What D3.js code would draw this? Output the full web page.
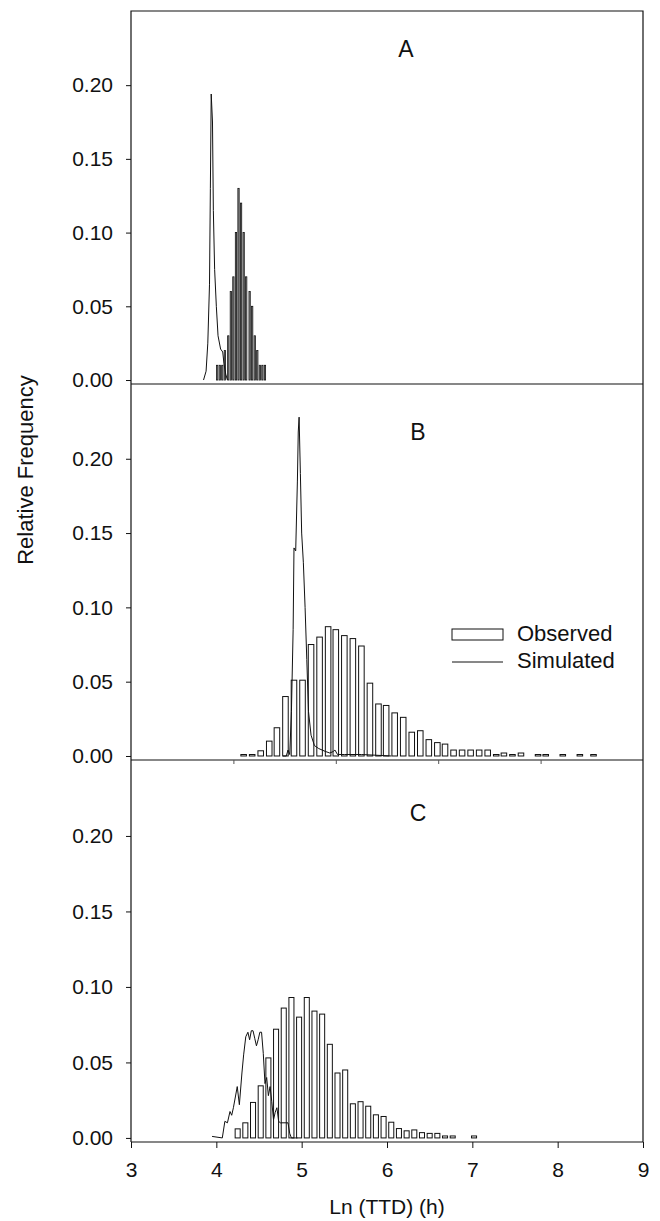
<!DOCTYPE html>
<html>
<head>
<meta charset="utf-8">
<script src="https://cdn.jsdelivr.net/npm/d3@7"></script>
<style>
body { margin: 0; background: #fff; }
text { font-family: "Liberation Sans", Arial, sans-serif; fill: #111; }
</style>
</head>
<body>
<script>
// tick labels
const xTicks = [3, 4, 5, 6, 7, 8, 9];
const yTicks = [0, 0.05, 0.10, 0.15, 0.20];
const bInnerTicks = [4.2, 5.4, 6.6, 7.8];
const panelLabels = ["A", "B", "C"];

// panel A
const aObsX = [4.01, 4.04, 4.07, 4.10, 4.14, 4.17, 4.20, 4.23, 4.26, 4.29, 4.32, 4.35, 4.39, 4.42, 4.45, 4.48, 4.51, 4.54, 4.57];
const aObsY = [0.01, 0.01, 0.01, 0.02, 0.03, 0.06, 0.07, 0.10, 0.13, 0.12, 0.10, 0.07, 0.06, 0.05, 0.03, 0.02, 0.01, 0.01, 0.01];
const aSimX = [3.85, 3.88, 3.90, 3.92, 3.93, 3.94, 3.955, 3.965, 3.98, 4.00, 4.02, 4.05, 4.075, 4.09, 4.11, 4.13];
const aSimY = [0.000, 0.006, 0.025, 0.065, 0.130, 0.194, 0.175, 0.115, 0.075, 0.050, 0.030, 0.021, 0.019, 0.011, 0.004, 0.000];

// panel B
const bObsX = [4.32, 4.42, 4.52, 4.62, 4.71, 4.81, 4.91, 5.01, 5.11, 5.21, 5.31, 5.40, 5.50, 5.60, 5.70, 5.80, 5.90, 5.99,
    6.09, 6.19, 6.29, 6.39, 6.49, 6.59, 6.68, 6.78, 6.88, 6.98, 7.08, 7.18, 7.28, 7.37, 7.47, 7.57, 7.77, 7.86, 8.06, 8.26, 8.42];
const bObsY = [0.001, 0.001, 0.0035, 0.010, 0.019, 0.040, 0.051, 0.051, 0.075, 0.080, 0.087, 0.085, 0.081, 0.079, 0.074, 0.049, 0.035, 0.034,
    0.029, 0.026, 0.016, 0.017, 0.011, 0.009, 0.008, 0.004, 0.004, 0.004, 0.004, 0.004, 0.001, 0.002, 0.001, 0.002, 0.001, 0.001, 0.001, 0.001, 0.001];
const bSimX = [4.78, 4.82, 4.84, 4.86, 4.88, 4.90, 4.91, 4.93, 4.95, 4.96, 4.97, 4.985, 5.00, 5.02, 5.04, 5.06, 5.08, 5.11, 5.15, 5.20,
    5.28, 5.33, 5.37, 5.39, 5.42, 5.50, 5.70, 6.05];
const bSimY = [0.000, 0.000, 0.004, 0.001, 0.030, 0.085, 0.140, 0.138, 0.185, 0.218, 0.228, 0.190, 0.150, 0.130, 0.100, 0.065, 0.030, 0.014, 0.007, 0.005,
    0.003, 0.002, 0.003, 0.004, 0.001, 0.001, 0.001, 0.000];

// panel C
const cObsX = [4.25, 4.34, 4.43, 4.52, 4.61, 4.70, 4.79, 4.88, 4.97, 5.06, 5.15, 5.24, 5.33, 5.42, 5.51, 5.60, 5.69, 5.78,
    5.87, 5.96, 6.05, 6.14, 6.23, 6.32, 6.41, 6.50, 6.59, 6.68, 6.77, 7.02];
const cObsY = [0.006, 0.010, 0.0235, 0.0345, 0.053, 0.072, 0.086, 0.093, 0.080, 0.093, 0.084, 0.082, 0.062, 0.043, 0.045, 0.0226, 0.024, 0.021,
    0.0153, 0.0142, 0.0104, 0.0062, 0.0047, 0.0053, 0.0035, 0.003, 0.003, 0.0013, 0.0013, 0.0013];
const cSimX = [3.95, 4.07, 4.10, 4.13, 4.16, 4.18, 4.20, 4.245, 4.27, 4.30, 4.32, 4.345, 4.37, 4.39, 4.41, 4.43, 4.45, 4.47,
    4.49, 4.51, 4.53, 4.55, 4.57, 4.59, 4.61, 4.63, 4.65, 4.67, 4.69, 4.71, 4.73, 4.75, 4.84, 4.86, 4.88, 4.95];
const cSimY = [0.001, 0.000, 0.011, 0.010, 0.0175, 0.015, 0.020, 0.034, 0.022, 0.043, 0.055, 0.067, 0.070, 0.065, 0.071, 0.071, 0.066, 0.061,
    0.065, 0.070, 0.070, 0.056, 0.036, 0.040, 0.028, 0.034, 0.024, 0.012, 0.017, 0.020, 0.011, 0.010, 0.010, 0.003, 0.000, 0.000];

const width = 660;
const height = 1221;
const left = 131, right = 643;

const panels = [
    {top: 11, bottom: 384, obsX: aObsX, obsY: aObsY, simX: aSimX, simY: aSimY, bw: 0.015, fill: "#999", labelX: 406, labelY: 57},
    {top: 384, bottom: 760, obsX: bObsX, obsY: bObsY, simX: bSimX, simY: bSimY, bw: 0.065, fill: "#fff", labelX: 418, labelY: 440},
    {top: 760, bottom: 1142, obsX: cObsX, obsY: cObsY, simX: cSimX, simY: cSimY, bw: 0.059, fill: "#fff", labelX: 418, labelY: 821}
];

const svg = d3.select("body").append("svg")
    .attr("width", width)
    .attr("height", height);

const x = d3.scaleLinear().domain([3, 9]).range([left, right]);

panels.forEach((p, i) => {
    const y = d3.scaleLinear().domain([-0.0027, 0.2503]).range([p.bottom, p.top]);
    const g = svg.append("g");

    // observed bars
    g.selectAll("rect")
        .data(p.obsX.map((d, j) => ({x: d, v: p.obsY[j]})))
        .enter()
        .append("rect")
        .attr("x", d => x(d.x - p.bw / 2))
        .attr("width", d => x(d.x + p.bw / 2) - x(d.x - p.bw / 2))
        .attr("y", d => y(d.v))
        .attr("height", d => y(0) - y(d.v))
        .style("fill", p.fill)
        .style("stroke", "#111")
        .style("stroke-width", i === 0 ? 0.8 : 1);

    // simulated line
    const line = d3.line()
        .x(d => x(d[0]))
        .y(d => y(d[1]));

    g.append("path")
        .attr("d", line(p.simX.map((d, j) => [d, p.simY[j]])))
        .style("fill", "none")
        .style("stroke", "#111")
        .style("stroke-width", 1);

    // y axis
    const yAxis = d3.axisLeft(y).tickValues(yTicks).tickSize(5).tickPadding(13).tickFormat(d3.format(".2f"));
    g.append("g")
        .attr("transform", `translate(${left},0)`)
        .call(yAxis)
        .call(a => a.select(".domain").remove())
        .call(a => a.selectAll("text").style("font-size", "21px"))
        .call(a => a.selectAll("line").style("stroke", "#111"));

    // bottom line of panel
    g.append("line")
        .attr("x1", left).attr("x2", right)
        .attr("y1", p.bottom).attr("y2", p.bottom)
        .style("stroke", "#111").style("stroke-width", 1.2);

    g.append("text")
        .attr("x", p.labelX)
        .attr("y", p.labelY)
        .style("font-size", "23px")
        .style("text-anchor", "middle")
        .text(panelLabels[i]);
});

// small ticks under panel B
svg.append("g")
    .attr("transform", "translate(0,760)")
    .call(d3.axisBottom(x).tickValues(bInnerTicks).tickSize(4).tickFormat(""))
    .call(a => a.select(".domain").remove())
    .call(a => a.selectAll("line").style("stroke", "#555"));

// frame
svg.append("path")
    .attr("d", `M${left},1142V11H${right}V1142`)
    .style("fill", "none")
    .style("stroke", "#111")
    .style("stroke-width", 1.2);

// x axis
const xAxis = d3.axisBottom(x).tickValues(xTicks).tickSize(6).tickPadding(14).tickFormat(d3.format("d"));
svg.append("g")
    .attr("transform", "translate(0,1142)")
    .call(xAxis)
    .call(a => a.select(".domain").remove())
    .call(a => a.selectAll("text").style("font-size", "21px"))
    .call(a => a.selectAll("line").style("stroke", "#111"));

svg.append("text")
    .attr("x", (left + right) / 2)
    .attr("y", 1214)
    .style("font-size", "21px")
    .style("text-anchor", "middle")
    .text("Ln (TTD) (h)");

svg.append("text")
    .attr("transform", "translate(33,470) rotate(-90)")
    .style("font-size", "22px")
    .style("text-anchor", "middle")
    .text("Relative Frequency");

// legend
const legend = svg.append("g").attr("transform", "translate(452,629)");
legend.append("rect")
    .attr("width", 51).attr("height", 11)
    .style("fill", "#fff").style("stroke", "#111");
legend.append("text")
    .attr("x", 65).attr("y", 12)
    .style("font-size", "22px")
    .text("Observed");
legend.append("line")
    .attr("x1", 0).attr("x2", 51).attr("y1", 33).attr("y2", 33)
    .style("stroke", "#111");
legend.append("text")
    .attr("x", 65).attr("y", 39)
    .style("font-size", "22px")
    .text("Simulated");
</script>
</body>
</html>
